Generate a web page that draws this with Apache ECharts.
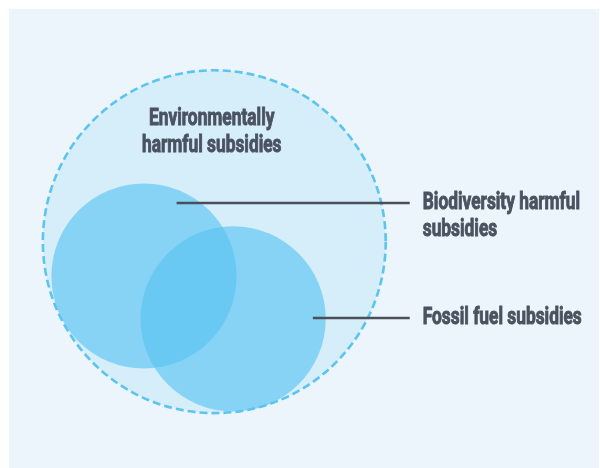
<!DOCTYPE html>
<html><head><meta charset="utf-8">
<script src="https://cdn.jsdelivr.net/npm/echarts@6/dist/echarts.min.js"></script>
<style>html,body{margin:0;padding:0;background:#fff}#c{width:600px;height:468px}</style>
</head><body><div id="c"></div>
<script>
// Venn sets (abstract units; outer set radius = 100)
const setNames = ['Environmentally harmful subsidies', 'Biodiversity harmful subsidies', 'Fossil fuel subsidies'];
const setX = [0, -41, 11];
const setY = [0, -20, -45];
const setR = [100, 54, 54];
// Label text lines
const labelLines = [['Environmentally', 'harmful subsidies'], ['Biodiversity harmful', 'subsidies'], ['Fossil fuel subsidies']];
// Leader line anchors (start inside set, end near label)
const leaderStartX = [null, -22, 57.5];
const leaderY = [null, 22.6, -44.5];
const leaderEndX = [null, 114, 114];
const labelX = [-1.5, 121.6, 121.6];
const labelY = [71.5, 22.5, -44.8];

const FONT_SIZE = 23;
const FONT = 'bold ' + FONT_SIZE + 'px Roboto, "DejaVu Sans", sans-serif';
const TXT = '#4a5260';
const LH = 27;

// horizontal condensing factor so the label face matches the reference's condensed type
const ctx = document.createElement('canvas').getContext('2d');
ctx.font = FONT;
const SX = 159 / ctx.measureText('Fossil fuel subsidies').width;

const chart = echarts.init(document.getElementById('c'));

function circleEl(api, i, style) {
  const c = api.coord([setX[i], setY[i]]);
  const r = api.size([setR[i], 0])[0];
  return {type: 'circle', shape: {cx: c[0], cy: c[1], r: r}, style: style};
}

const rows = setNames.map((n, i) => [i]);

chart.setOption({
  animation: false,
  backgroundColor: '#ffffff',
  graphic: [{type: 'rect', left: 9, top: 9, shape: {width: 590, height: 459}, style: {fill: '#edf5fc'}, z: -10}],
  grid: {left: 0, top: 0, width: 600, height: 468},
  xAxis: {type: 'value', min: -125, max: 225, show: false},
  yAxis: {type: 'value', min: -132, max: 141, show: false},
  series: [
    { // outer set fill
      type: 'custom', coordinateSystem: 'cartesian2d', data: [[0]], z: 1,
      renderItem: (p, api) => circleEl(api, 0, {fill: '#d6edfa'})
    },
    { // inner sets
      type: 'custom', coordinateSystem: 'cartesian2d', data: [[1], [2]], z: 2,
      renderItem: (p, api) => circleEl(api, api.value(0), {fill: 'rgba(86,195,242,0.625)'})
    },
    { // outer dashed border
      type: 'custom', coordinateSystem: 'cartesian2d', data: [[0]], z: 3,
      renderItem: (p, api) => circleEl(api, 0, {fill: 'none', stroke: '#5bc5f0', lineWidth: 2.6, lineDash: [8, 4]})
    },
    { // leader lines + labels
      type: 'custom', coordinateSystem: 'cartesian2d', data: rows, z: 4,
      renderItem: (p, api) => {
        const i = api.value(0);
        const children = [];
        const lines = labelLines[i];
        const lp = api.coord([labelX[i], labelY[i]]);
        const centered = i === 0;
        if (!centered) {
          const a = api.coord([leaderStartX[i], leaderY[i]]);
          const b = api.coord([leaderEndX[i], leaderY[i]]);
          children.push({type: 'line', shape: {x1: a[0], y1: a[1], x2: b[0], y2: b[1]},
            style: {stroke: '#4a4f5a', lineWidth: 2.5}});
        }
        lines.forEach((t, k) => children.push({
          type: 'text', x: lp[0], y: lp[1] + k * LH, scaleX: SX,
          style: {text: t, x: 0, y: 0, align: centered ? 'center' : 'left',
            verticalAlign: 'middle', fill: TXT, font: FONT,
            stroke: TXT, lineWidth: 0.9}
        }));
        return {type: 'group', children: children};
      }
    }
  ]
});
</script></body></html>
